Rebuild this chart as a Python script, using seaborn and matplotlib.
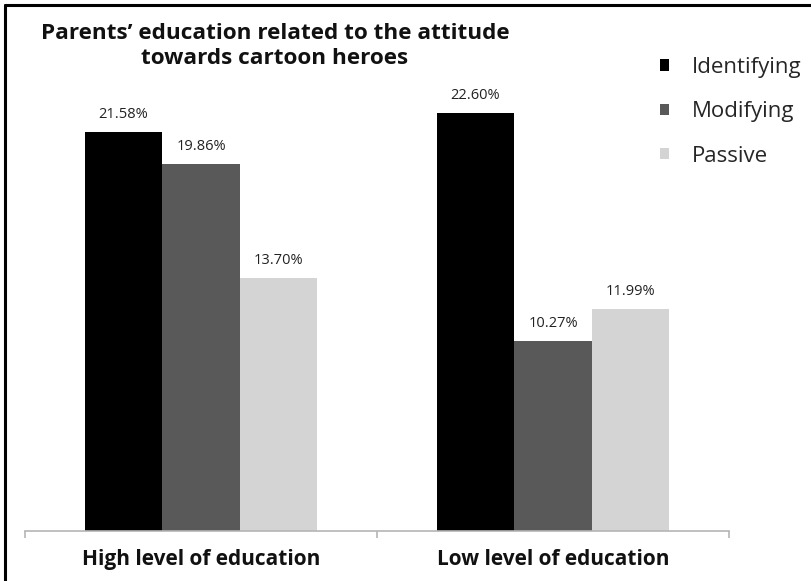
import matplotlib
matplotlib.use("Agg")
import matplotlib.pyplot as plt
from matplotlib.lines import Line2D
import seaborn as sns
import pandas as pd

# Chart data
levels = ["High level of education", "Low level of education"]
attitudes = ["Identifying", "Modifying", "Passive"]
identifying = [21.58, 22.60]
modifying = [19.86, 10.27]
passive = [13.70, 11.99]
colors = ["#000000", "#595959", "#d4d4d4"]

rows = []
for i, lvl in enumerate(levels):
    for att, vals in zip(attitudes, [identifying, modifying, passive]):
        rows.append({"level": lvl, "attitude": att, "value": vals[i]})
df = pd.DataFrame(rows)

sns.set_theme(style="white")
plt.rcParams["font.family"] = ["Open Sans", "DejaVu Sans"]

W, H = 812, 581
fig = plt.figure(figsize=(W / 100, H / 100), dpi=100)
ax = fig.add_axes([25 / W, 50 / H, 704 / W, 481 / H])

sns.barplot(data=df, x="level", y="value", hue="attitude", hue_order=attitudes,
            palette=colors, width=0.66, saturation=1, ax=ax, linewidth=0,
            errorbar=None)

ax.set_xlim(-0.5, 1.5)
ax.set_ylim(0, 26.0)
ax.set_xlabel("")
ax.set_ylabel("")
ax.set_yticks([])

for side in ["top", "right", "left"]:
    ax.spines[side].set_visible(False)
ax.spines["bottom"].set_color("#b5b5b5")
ax.spines["bottom"].set_linewidth(1.2)

ax.set_xticks([0, 1])
ax.set_xticklabels(levels, fontsize=15, fontweight="bold", color="#111111")
ax.tick_params(axis="x", which="major", length=0, pad=13)
ax.set_xticks([-0.5, 0.5, 1.5], minor=True)
ax.tick_params(axis="x", which="minor", length=5, width=1.2, color="#b5b5b5",
               bottom=True)

for cont in ax.containers:
    ax.bar_label(cont, labels=[f"{v:.2f}%" for v in cont.datavalues],
                 padding=7, fontsize=10.5, color="#222222")

handles, labels = ax.get_legend_handles_labels()
leg = ax.legend(handles, labels, loc="upper left",
                bbox_to_anchor=(640 / W, 1 - 37 / H),
                bbox_transform=fig.transFigure, frameon=False,
                fontsize=16, handlelength=0.42, handleheight=0.42,
                handletextpad=1.0, labelspacing=1.05)

fig.text(275 / W, 1 - 46 / H,
         "Parents\u2019 education related to the attitude\ntowards cartoon heroes",
         ha="center", va="center", multialignment="center",
         fontsize=16.2, fontweight="bold", color="#111111", linespacing=1.22)

# Frame lines along the top and left edge
fig.add_artist(Line2D([5 / W, 1], [1 - 5 / H, 1 - 5 / H], transform=fig.transFigure,
                      color="black", linewidth=2.2))
fig.add_artist(Line2D([5 / W, 5 / W], [0, 1 - 5 / H], transform=fig.transFigure,
                      color="black", linewidth=2.2))

fig.savefig("out.png", dpi=100)
